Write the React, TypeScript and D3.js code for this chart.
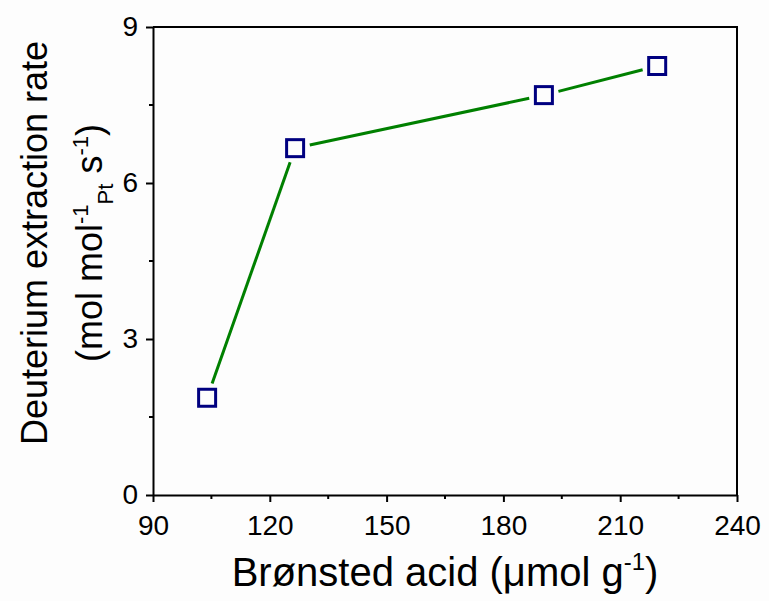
import { useEffect, useRef } from "react";
import * as d3 from "d3";

// Brønsted acid amount (µmol/g) vs deuterium extraction rate
const acidAmount = [103.9, 126.5, 190.4, 219.5];
const extractionRate = [1.87, 6.67, 7.69, 8.25];
const xTicks = [90, 120, 150, 180, 210, 240];
const yTicks = [0, 3, 6, 9];

const W = 769;
const H = 601;
const margin = { top: 27, right: 32, bottom: 106, left: 153 };
const FONT = "Arial, 'Liberation Sans', sans-serif";

export default function App() {
  const svgRef = useRef<SVGSVGElement | null>(null);

  useEffect(() => {
    if (!svgRef.current) return;
    const svg = d3.select(svgRef.current);
    svg.selectAll("*").remove();

    const x = d3.scaleLinear().domain([90, 240]).range([margin.left, W - margin.right]);
    const y = d3.scaleLinear().domain([0, 9]).range([H - margin.bottom, margin.top]);

    svg.append("rect").attr("width", W).attr("height", H).attr("fill", "#fdfdfd");

    // frame top + right
    const x0 = x.range()[0], x1 = x.range()[1];
    const y0 = y.range()[0], y1 = y.range()[1];
    svg.append("path")
      .attr("d", `M${x0},${y1}H${x1}V${y0}`)
      .attr("fill", "none")
      .attr("stroke", "#000")
      .attr("stroke-width", 2);

    // x axis
    const xAxis = svg.append("g").attr("transform", `translate(0,${y0})`)
      .call(d3.axisBottom(x).tickValues(xTicks).tickSize(7).tickSizeOuter(0).tickPadding(13));
    xAxis.append("g").selectAll("line")
      .data(d3.range(105, 240, 30))
      .join("line")
      .attr("x1", d => x(d)).attr("x2", d => x(d))
      .attr("y1", 0).attr("y2", 4)
      .attr("stroke", "#000").attr("stroke-width", 2);

    // y axis
    const yAxis = svg.append("g").attr("transform", `translate(${x0},0)`)
      .call(d3.axisLeft(y).tickValues(yTicks).tickSize(7).tickSizeOuter(0).tickPadding(8));
    yAxis.append("g").selectAll("line")
      .data([1.5, 4.5, 7.5])
      .join("line")
      .attr("y1", d => y(d)).attr("y2", d => y(d))
      .attr("x1", 0).attr("x2", -4)
      .attr("stroke", "#000").attr("stroke-width", 2);

    [xAxis, yAxis].forEach(g => {
      g.select(".domain").attr("stroke-width", 2);
      g.selectAll(".tick line").attr("stroke-width", 2);
      g.selectAll(".tick text")
        .attr("font-family", FONT)
        .attr("font-size", 28)
        .attr("fill", "#000");
    });

    // line with gaps near the markers
    const pts = acidAmount.map((a, i) => [x(a), y(extractionRate[i])]);
    const gap = 15;
    const segs = d3.pairs(pts).map(([p, q]) => {
      const dx = q[0] - p[0], dy = q[1] - p[1];
      const len = Math.hypot(dx, dy);
      const ux = dx / len, uy = dy / len;
      return [p[0] + ux * gap, p[1] + uy * gap, q[0] - ux * gap, q[1] - uy * gap];
    });
    svg.append("g").selectAll("line")
      .data(segs)
      .join("line")
      .attr("x1", d => d[0]).attr("y1", d => d[1])
      .attr("x2", d => d[2]).attr("y2", d => d[3])
      .attr("stroke", "#008000")
      .attr("stroke-width", 3);

    // open square markers
    const s = 17;
    svg.append("g").selectAll("rect")
      .data(pts)
      .join("rect")
      .attr("x", d => d[0] - s / 2)
      .attr("y", d => d[1] - s / 2)
      .attr("width", s).attr("height", s)
      .attr("fill", "none")
      .attr("stroke", "#000080")
      .attr("stroke-width", 3);

    // x title
    const xt = svg.append("text")
      .attr("x", (x0 + x1) / 2)
      .attr("y", 586)
      .attr("text-anchor", "middle")
      .attr("font-family", FONT)
      .attr("font-size", 40)
      .attr("fill", "#000");
    xt.append("tspan").text("Brønsted acid (μmol g");
    xt.append("tspan").attr("dy", -16).attr("font-size", 24).text("-1");
    xt.append("tspan").attr("dy", 16).text(")");

    // y title
    const cy = 243;
    svg.append("text")
      .attr("transform", `translate(47,${cy}) rotate(-90)`)
      .attr("text-anchor", "middle")
      .attr("font-family", FONT)
      .attr("font-size", 36)
      .attr("fill", "#000")
      .text("Deuterium extraction rate");

    const yt = svg.append("text")
      .attr("transform", `translate(102,${cy}) rotate(-90)`)
      .attr("text-anchor", "middle")
      .attr("font-family", FONT)
      .attr("font-size", 36)
      .attr("fill", "#000");
    yt.append("tspan").text("(mol mol");
    yt.append("tspan").attr("dy", -14).attr("font-size", 22).text("-1");
    yt.append("tspan").attr("dy", 25).attr("font-size", 22).text("Pt");
    yt.append("tspan").attr("dy", -11).text(" s");
    yt.append("tspan").attr("dy", -14).attr("font-size", 22).text("-1");
    yt.append("tspan").attr("dy", 14).text(")");
  }, []);

  return (
    <svg
      ref={svgRef}
      width={W}
      height={H}
      style={{ position: "absolute", left: 0, top: 0 }}
    />
  );
}
